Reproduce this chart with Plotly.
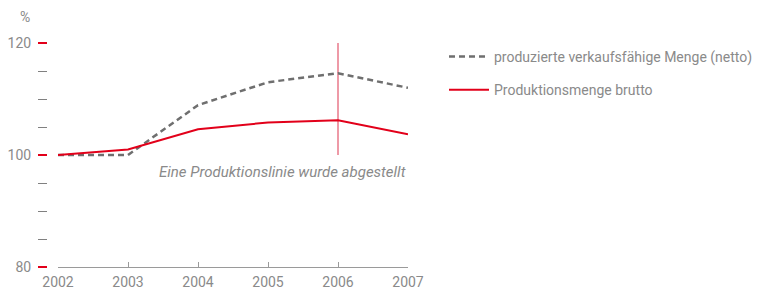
import plotly.graph_objects as go

years = [2002, 2003, 2004, 2005, 2006, 2007]
netto = [100.0, 100.0, 108.9, 113.0, 114.6, 112.0]
brutto = [100.0, 101.0, 104.6, 105.8, 106.2, 103.7]
netto_name = "produzierte verkaufsfähige Menge (netto)"
brutto_name = "Produktionsmenge brutto"
event_year = [2006, 2006]
event_range = [100, 120.3]
event_text = "Eine Produktionslinie wurde abgestellt"
y_ticks = [80, 100, 120]
y_minor = [85, 90, 95, 105, 110, 115]

# the page body has an 8px default margin; size the figure so it fits the window
OFF = 8
W, H = 763 - OFF, 289 - OFF
L, T = 47 - OFF, 43 - OFF
R = W - (408 - OFF)
B = H - (267 - OFF)
pw = W - L - R
ph = H - T - B

GRAY = "#8a8a8a"
RED = "#e2001a"
FONT = "Roboto"

fig = go.Figure()
fig.add_trace(go.Scatter(
    x=event_year, y=event_range, mode="lines",
    line=dict(color="#e8788a", width=1.5), showlegend=False, hoverinfo="skip",
    cliponaxis=False,
))
fig.add_trace(go.Scatter(
    x=years, y=netto, mode="lines", name=netto_name, legendgroup="a",
    line=dict(color="#6f6f6f", width=2.5, dash="6px,4px"),
))
fig.add_trace(go.Scatter(
    x=years, y=brutto, mode="lines", name=brutto_name, legendgroup="b",
    line=dict(color=RED, width=2),
))

fig.add_annotation(
    x=2007, y=96.9, xref="x", yref="y", text="<i>" + event_text + "</i>",
    showarrow=False, xanchor="right", yanchor="middle",
    font=dict(family=FONT, size=15, color=GRAY),
)
fig.add_annotation(
    x=(25 - 47) / pw, y=1 + (43 - 17) / ph, xref="paper", yref="paper", text="%",
    showarrow=False, xanchor="center", yanchor="middle",
    font=dict(family=FONT, size=14, color=GRAY),
)

fig.update_layout(
    width=W, height=H,
    margin=dict(l=L, r=R, t=T, b=B, pad=0, autoexpand=False),
    paper_bgcolor="white", plot_bgcolor="white",
    font=dict(family=FONT, size=14, color=GRAY),
    xaxis=dict(
        domain=[11 / pw, 1], range=[2002, 2007], tickvals=years,
        showgrid=False, zeroline=False, showline=True, linecolor="#9a9a9a", linewidth=1,
        ticks="inside", ticklen=5, tickcolor="#9a9a9a", tickwidth=1,
        ticklabelstandoff=2,
        tickfont=dict(family=FONT, size=14, color=GRAY),
        automargin=False, fixedrange=True,
    ),
    yaxis=dict(
        anchor="free", position=0, range=[80, 120], tickvals=y_ticks,
        showgrid=False, zeroline=False, showline=False,
        ticks="outside", ticklen=9, tickcolor=RED, tickwidth=1.5,
        ticklabelstandoff=4,
        minor=dict(tickvals=y_minor, ticks="outside", ticklen=9, tickcolor="#808080", tickwidth=1.3, showgrid=False),
        tickfont=dict(family=FONT, size=14, color=GRAY),
        automargin=False, fixedrange=True,
    ),
    legend=dict(
        x=(444 - 47) / pw, y=1 + (43 - 41) / ph, xanchor="left", yanchor="top",
        traceorder="grouped", tracegroupgap=12, itemwidth=40,
        font=dict(family=FONT, size=14, color=GRAY), bgcolor="rgba(0,0,0,0)",
    ),
)

fig.write_html("out.html")
